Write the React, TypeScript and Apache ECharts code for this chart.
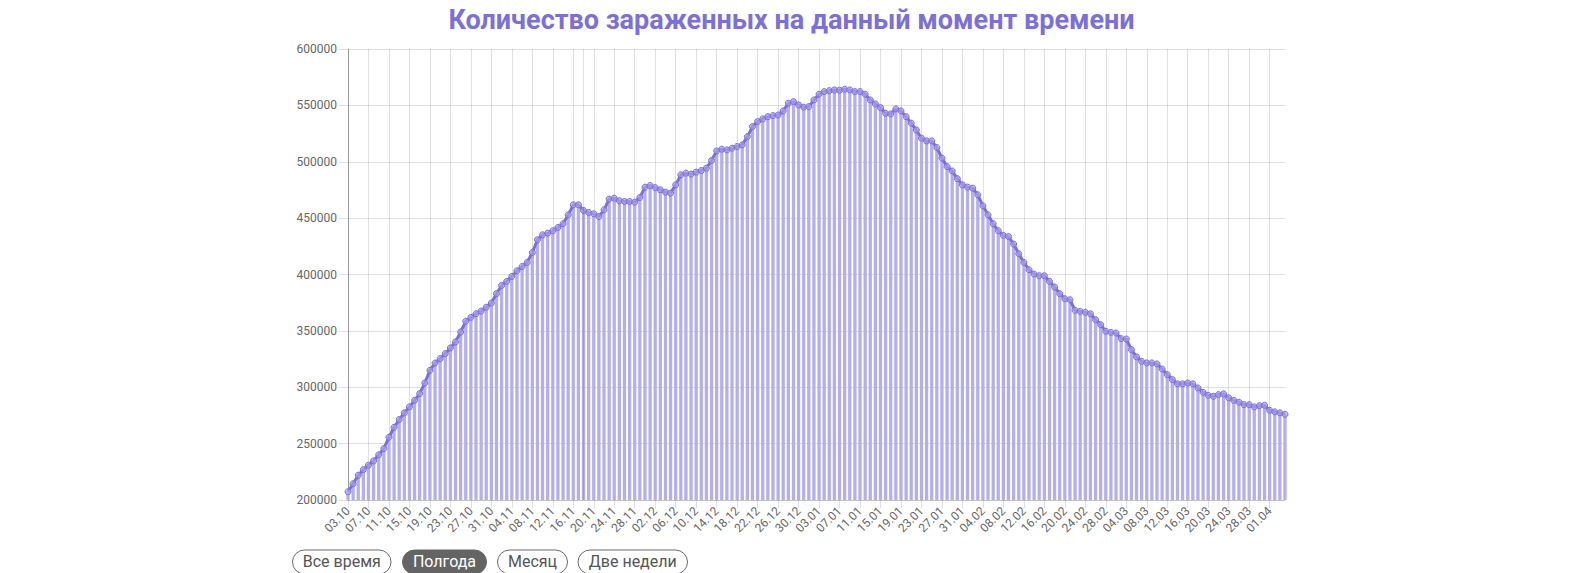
import React, { useEffect, useRef } from "react";
import * as echarts from "echarts";

// Active cases per day, 03.10 → 04.04
const octValues = [207300, 214400, 222000, 227000, 230900, 234700, 240100, 245600, 255700, 264500, 271300, 277300, 282600, 288400, 294400, 303800, 315000, 321500, 325400, 329800, 334900, 340200, 349000, 358500, 362000, 365200, 367600, 371000, 374700];
const novValues = [383000, 390300, 393900, 398300, 403300, 407100, 410700, 419500, 430800, 435200, 436700, 438800, 441700, 445000, 452900, 461800, 461800, 456800, 455000, 453800, 451400, 457400, 466900, 467700, 465400, 464800, 464800, 464200, 468300, 477500];
const decValues = [478900, 477100, 475100, 473100, 472200, 479500, 488400, 489900, 489000, 490800, 492200, 494300, 501100, 509600, 511100, 510500, 512000, 513500, 515000, 522300, 531200, 535600, 538000, 540000, 540900, 541500, 545100, 551900, 553300, 550400, 548400];
const janValues = [548900, 554800, 559900, 562200, 563100, 563700, 563400, 564300, 563700, 562200, 562200, 559900, 554800, 551300, 548000, 543000, 542400, 546900, 545100, 540000, 534200, 528200, 520900, 518500, 518500, 512600, 503200, 495700, 491800, 485000, 479500];
const febValues = [477500, 476600, 470700, 460900, 452900, 445000, 438800, 434600, 433700, 427000, 418400, 410700, 404200, 400400, 398900, 398900, 393900, 388900, 383000, 378500, 377600, 368200, 367300, 366400, 365200, 359900, 355500, 349600];
const marValues = [348700, 348100, 343100, 342800, 333400, 326900, 323000, 321600, 321600, 320700, 316200, 311200, 306800, 303000, 303000, 303800, 303000, 299400, 295500, 292900, 292000, 293500, 294100, 290600, 288400, 286700, 284600, 284600, 282600, 283700, 284000];
const aprValues = [279600, 278200, 277300, 276000];

const months = [
  { month: 10, firstDay: 3, values: octValues },
  { month: 11, firstDay: 1, values: novValues },
  { month: 12, firstDay: 1, values: decValues },
  { month: 1, firstDay: 1, values: janValues },
  { month: 2, firstDay: 1, values: febValues },
  { month: 3, firstDay: 1, values: marValues },
  { month: 4, firstDay: 1, values: aprValues },
];

const pad = (n: number) => (n < 10 ? "0" + n : String(n));
const dates: string[] = [];
const values: number[] = [];
months.forEach((m) => {
  m.values.forEach((v, k) => {
    dates.push(pad(m.firstDay + k) + "." + pad(m.month));
    values.push(v);
  });
});

const yTicks = { min: 200000, max: 600000, interval: 50000 };
const markedDateIndex = 46;

const buttonLabels = ["Все время", "Полгода", "Месяц", "Две недели"];
const activeButton = 1;

const TITLE = "Количество зараженных на данный момент времени";
const FONT = "Roboto";
const PURPLE = "#7a6fdb";
const GRID_COLOR = "rgba(0,0,0,0.12)";

export default function App() {
  const ref = useRef<HTMLDivElement>(null);
  useEffect(() => {
    if (!ref.current) return;
    const chart = echarts.init(ref.current, null, { renderer: "svg" });

    const btnX = [292.5, 402.5, 497.5, 578];
    const btnW = [98.5, 84, 70, 109.5];
    const btnTop = 550;
    const btnH = 24;
    const buttons = buttonLabels.map((label, i) => ({
      type: "group",
      x: btnX[i],
      y: btnTop,
      children: [
        {
          type: "rect",
          shape: { x: 0, y: 0, width: btnW[i], height: btnH, r: btnH / 2 },
          style: {
            fill: i === activeButton ? "#646464" : "#fff",
            stroke: i === activeButton ? "#646464" : "#6a6a6a",
            lineWidth: 1,
          },
        },
        {
          type: "text",
          x: btnW[i] / 2,
          y: 11.5,
          style: {
            text: label,
            fontFamily: FONT,
            fontSize: 16,
            fill: i === activeButton ? "#fff" : "#555",
            align: "center",
            verticalAlign: "middle",
          },
        },
      ],
    }));

    chart.setOption({
      animation: false,
      textStyle: { fontFamily: FONT },
      title: {
        text: TITLE,
        left: "center",
        top: 1,
        textStyle: { fontFamily: FONT, fontSize: 27, fontWeight: "bold", color: PURPLE },
      },
      grid: { left: 348, right: 298, top: 49, bottom: 73, containLabel: false },
      xAxis: {
        type: "category",
        data: dates,
        boundaryGap: false,
        axisLine: { show: true, lineStyle: { color: GRID_COLOR } },
        axisTick: { show: true, interval: 3, length: 8, lineStyle: { color: GRID_COLOR } },
        splitLine: { show: true, interval: 3, lineStyle: { color: GRID_COLOR, width: 1 } },
        axisLabel: {
          interval: 3,
          rotate: 45,
          margin: 9,
          fontSize: 12,
          color: "#666",
          fontFamily: FONT,
        },
      },
      yAxis: {
        type: "value",
        min: yTicks.min,
        max: yTicks.max,
        interval: yTicks.interval,
        axisLine: { show: true, lineStyle: { color: "#999" } },
        axisTick: { show: true, length: 9, lineStyle: { color: GRID_COLOR } },
        splitLine: { show: true, lineStyle: { color: GRID_COLOR, width: 1 } },
        axisLabel: {
          margin: 11,
          fontSize: 12,
          color: "#666",
          fontFamily: FONT,
          formatter: (v: number) => String(v),
        },
      },
      series: [
        {
          type: "bar",
          data: values,
          barWidth: "64%",
          itemStyle: { color: "#b5aeeb" },
          silent: true,
          markLine: {
            silent: true,
            symbol: "none",
            label: { show: false },
            lineStyle: { color: GRID_COLOR, type: "solid", width: 1 },
            data: [{ xAxis: dates[markedDateIndex] }],
          },
        },
        {
          type: "line",
          data: values,
          symbol: "circle",
          symbolSize: 6,
          showAllSymbol: true,
          lineStyle: { color: PURPLE, width: 3 },
          itemStyle: { color: "rgba(170,160,240,0.7)", borderColor: PURPLE, borderWidth: 1 },
          silent: true,
          z: 3,
        },
      ],
      graphic: buttons,
    });
    return () => chart.dispose();
  }, []);
  return (
    <div
      ref={ref}
      style={{ position: "absolute", left: 0, top: 0, width: 1583, height: 573 }}
    />
  );
}
